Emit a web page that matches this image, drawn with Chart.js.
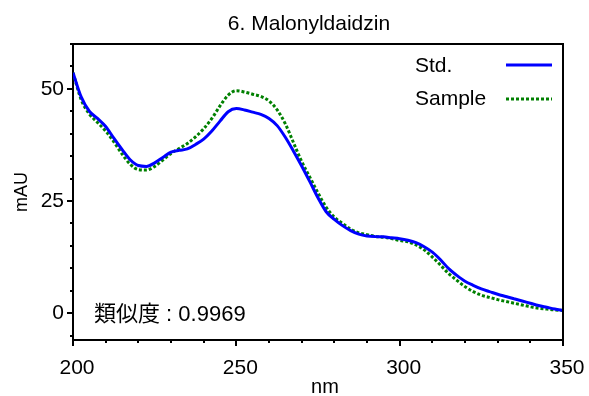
<!DOCTYPE html>
<html>
<head>
<meta charset="utf-8">
<script src="https://cdn.jsdelivr.net/npm/chart.js@4"></script>
<style>
  html, body { margin: 0; padding: 0; background: #ffffff; }
  #wrap { width: 589px; height: 396px; position: relative; }
</style>
</head>
<body>
<div id="wrap"><canvas id="c" width="589" height="396"></canvas></div>
<script>
// ---- data ----
const chartTitle = "6. Malonyldaidzin";
const xAxisTitle = "nm";
const yAxisTitle = "mAU";
const similarityText = "類似度 : 0.9969";
const seriesNames = ["Std.", "Sample"];

const wavelengths = [200,202.5,205,207.5,210,212.5,215,217.5,220,222.5,225,227.5,230,232.5,235,237.5,240,242.5,245,247.5,250,252.5,255,257.5,260,262.5,265,267.5,270,272.5,275,277.5,280,282.5,285,287.5,290,292.5,295,297.5,300,302.5,305,307.5,310,312.5,315,317.5,320,322.5,325,327.5,330,332.5,335,337.5,340,342.5,345,347.5,350];

const stdValues = [53.6,48.2,45.0,43.4,41.6,39.0,36.5,34.2,32.9,32.7,33.5,34.7,35.9,36.3,36.6,37.6,38.8,40.6,42.8,44.9,45.6,45.3,44.8,44.3,43.4,41.8,39.2,36.1,32.8,29.3,25.7,22.6,20.9,19.5,18.4,17.6,17.2,17.05,17.0,16.8,16.6,16.25,15.7,14.8,13.6,11.9,9.9,8.4,7.1,6.2,5.4,4.8,4.2,3.7,3.2,2.7,2.2,1.7,1.3,0.9,0.6];

const sampleValues = [53.6,47.6,44.4,42.5,40.6,38.2,35.5,33.2,32.0,31.9,32.7,34.1,35.6,36.7,37.8,39.3,41.1,43.4,46.2,48.6,49.6,49.3,48.8,48.3,47.3,45.3,42.2,38.0,33.8,30.3,26.8,23.6,21.4,20.0,18.7,17.9,17.5,17.1,16.9,16.6,16.2,15.9,15.2,14.1,12.5,10.7,8.8,7.3,5.9,4.8,4.0,3.5,3.0,2.6,2.2,1.8,1.4,1.1,0.9,0.7,0.6];

const xTickValues = [200, 250, 300, 350];
const yTickValues = [0, 25, 50];

// ---- styling ----
const FONT = '"Liberation Sans", "Noto Sans CJK JP", Arial, sans-serif';
const stdColor = '#0000ff';
const sampleColor = '#008000';

const overlay = {
  id: 'overlay',
  afterDraw(chart) {
    const ctx = chart.ctx;
    const a = chart.chartArea;
    const xs = chart.scales.x, ys = chart.scales.y;
    ctx.save();
    // frame top & right
    ctx.strokeStyle = '#000';
    ctx.lineWidth = 2;
    ctx.beginPath();
    ctx.moveTo(a.left - 1, a.top);
    ctx.lineTo(a.right, a.top);
    ctx.lineTo(a.right, a.bottom + 1);
    ctx.stroke();
    // x ticks (major at labels, minor every 10)
    for (let v = xs.min; v <= xs.max + 1e-9; v += 10) {
      const px = Math.round(xs.getPixelForValue(v));
      const major = xTickValues.includes(v);
      ctx.beginPath();
      ctx.moveTo(px, a.bottom);
      ctx.lineTo(px, a.bottom + (major ? 6 : 3));
      ctx.stroke();
    }
    // y ticks (major at labels, minor every 5)
    for (let v = -5; v <= ys.max + 1e-9; v += 5) {
      const py = Math.round(ys.getPixelForValue(v));
      const major = yTickValues.includes(v);
      ctx.beginPath();
      ctx.moveTo(a.left, py);
      ctx.lineTo(a.left - (major ? 6 : 3), py);
      ctx.stroke();
    }
    // title
    ctx.fillStyle = '#000';
    ctx.font = '21px ' + FONT;
    ctx.textAlign = 'center';
    ctx.textBaseline = 'alphabetic';
    ctx.fillText(chartTitle, 309, 30);
    // x axis title
    ctx.font = '20px ' + FONT;
    ctx.fillText(xAxisTitle, 325, 393);
    // y axis title
    ctx.save();
    ctx.translate(22, (a.top + a.bottom) / 2);
    ctx.rotate(-Math.PI / 2);
    ctx.font = '18px ' + FONT;
    ctx.textBaseline = 'middle';
    ctx.fillText(yAxisTitle, 0, 0);
    ctx.restore();
    // similarity annotation
    ctx.textAlign = 'left';
    ctx.textBaseline = 'middle';
    ctx.font = '22px ' + FONT;
    ctx.fillText(similarityText, 94, 315);
    // legend
    const ds = chart.data.datasets;
    const legendY = [66, 99];
    ds.forEach((d, i) => {
      ctx.font = '21px ' + FONT;
      ctx.textBaseline = 'middle';
      ctx.fillStyle = '#000';
      ctx.fillText(d.label, 415, legendY[i]);
      ctx.strokeStyle = d.borderColor;
      ctx.lineWidth = d.borderWidth;
      ctx.setLineDash(d.borderDash || []);
      const ly = i === 0 ? legendY[i] - 1 : legendY[i];
      ctx.beginPath();
      ctx.moveTo(506, ly);
      ctx.lineTo(552, ly);
      ctx.stroke();
      ctx.setLineDash([]);
    });
    ctx.restore();
  }
};

const toPoints = (vals) => wavelengths.map((x, i) => ({ x: x, y: vals[i] }));

new Chart(document.getElementById('c'), {
  type: 'line',
  data: {
    datasets: [
      {
        label: seriesNames[0],
        data: toPoints(stdValues),
        borderColor: stdColor,
        borderWidth: 3,
        pointRadius: 0,
        cubicInterpolationMode: 'monotone',
        fill: false
      },
      {
        label: seriesNames[1],
        data: toPoints(sampleValues),
        borderColor: sampleColor,
        borderWidth: 3,
        borderDash: [3, 2],
        pointRadius: 0,
        cubicInterpolationMode: 'monotone',
        fill: false
      }
    ]
  },
  options: {
    responsive: false,
    animation: false,
    devicePixelRatio: 1,
    layout: { padding: { top: 44, right: 26, left: 0, bottom: 0 } },
    plugins: {
      legend: { display: false },
      title: { display: false },
      tooltip: { enabled: false }
    },
    scales: {
      x: {
        type: 'linear',
        min: 200,
        max: 350,
        afterBuildTicks: (s) => { s.ticks = xTickValues.map(v => ({ value: v })); },
        afterFit: (s) => { s.height = 56; s.paddingLeft = 0; s.paddingRight = 0; },
        grid: { display: false, drawTicks: false },
        border: { display: true, color: '#000', width: 2 },
        ticks: {
          color: '#000',
          font: { family: FONT, size: 21 },
          padding: 16,
          labelOffset: 4,
          maxRotation: 0,
          autoSkip: false
        }
      },
      y: {
        type: 'linear',
        min: -6,
        max: 60,
        afterBuildTicks: (s) => { s.ticks = yTickValues.map(v => ({ value: v })); },
        afterFit: (s) => { s.width = 73; s.paddingTop = 0; s.paddingBottom = 0; },
        grid: { display: false, drawTicks: false },
        border: { display: true, color: '#000', width: 2 },
        ticks: {
          color: '#000',
          font: { family: FONT, size: 21 },
          padding: 9
        }
      }
    }
  },
  plugins: [overlay]
});
</script>
</body>
</html>
